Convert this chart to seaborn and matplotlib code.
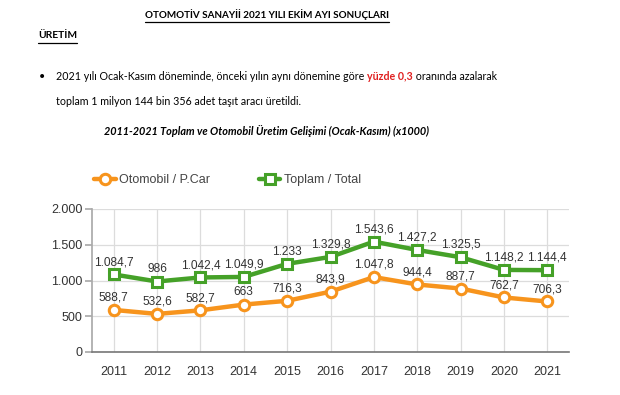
import matplotlib
matplotlib.use("Agg")
import matplotlib.pyplot as plt
import seaborn as sns
import pandas as pd
from matplotlib.lines import Line2D
from matplotlib.ticker import FuncFormatter

years = ["2011", "2012", "2013", "2014", "2015", "2016", "2017", "2018", "2019", "2020", "2021"]
otomobil = [588.7, 532.6, 582.7, 663.0, 716.3, 843.9, 1047.8, 944.4, 887.7, 762.7, 706.3]
toplam = [1084.7, 986.0, 1042.4, 1049.9, 1233.0, 1329.8, 1543.6, 1427.2, 1325.5, 1148.2, 1144.4]
series_names = ["Otomobil / P.Car", "Toplam / Total"]
y_ticks = [0, 500, 1000, 1500, 2000]

ORANGE = "#F7941D"
GREEN = "#45A128"
TXT = "#333333"

sns.set_theme(style="white")
plt.rcParams["font.family"] = ["Liberation Sans", "DejaVu Sans"]

def fmt_tr(v):
    s = f"{v:,.1f}".replace(",", "X").replace(".", ",").replace("X", ".")
    if s.endswith(",0"):
        s = s[:-2]
    return s

df = pd.DataFrame({
    "idx": list(range(len(years))) * 2,
    "value": otomobil + toplam,
    "series": [series_names[0]] * len(years) + [series_names[1]] * len(years),
})

fig = plt.figure(figsize=(6.2, 3.95), dpi=100)
ax = fig.add_axes([92 / 620, 1 - 352 / 395, (569 - 92) / 620, (352 - 209) / 395])

sns.lineplot(data=df, x="idx", y="value", hue="series", style="series",
             palette={series_names[0]: ORANGE, series_names[1]: GREEN},
             markers={series_names[0]: "o", series_names[1]: "s"},
             dashes=False, linewidth=3.2, markersize=7.5,
             markerfacecolor="white", markeredgewidth=2.2,
             ax=ax, legend=False, zorder=3)
for ln, c in zip(ax.get_lines(), [ORANGE, GREEN]):
    ln.set_markeredgecolor(c)
    ln.set_markerfacecolor("white")

ax.set_xlim(-0.5, len(years) - 0.5)
ax.set_ylim(0, 2000)
ax.set_xticks(range(len(years)))
ax.set_xticklabels(years)
ax.set_yticks(y_ticks)
ax.yaxis.set_major_formatter(FuncFormatter(lambda v, p: fmt_tr(v)))
ax.set_xlabel("")
ax.set_ylabel("")
ax.grid(True, color="#dcdcdc", linewidth=0.9)
ax.set_axisbelow(True)
for s in ["top", "right"]:
    ax.spines[s].set_visible(False)
ax.spines["left"].set_color("#aaaaaa")
ax.spines["bottom"].set_color("#777777")
ax.spines["bottom"].set_linewidth(1.2)
ax.tick_params(axis="y", left=True, length=5, color="#aaaaaa", labelsize=9, labelcolor=TXT, pad=2)
ax.tick_params(axis="x", bottom=False, labelsize=9, labelcolor=TXT, pad=4)

for i in range(len(years)):
    ax.annotate(fmt_tr(otomobil[i]), (i, otomobil[i]), xytext=(0, 4.5), textcoords="offset points",
                ha="center", va="bottom", fontsize=8.6, color=TXT)
    ax.annotate(fmt_tr(toplam[i]), (i, toplam[i]), xytext=(0, 4.5), textcoords="offset points",
                ha="center", va="bottom", fontsize=8.6, color=TXT)

handles = [Line2D([], [], color=ORANGE, lw=3.2, marker="o", markersize=7.5, markerfacecolor="white",
                  markeredgecolor=ORANGE, markeredgewidth=2.2),
           Line2D([], [], color=GREEN, lw=3.2, marker="s", markersize=7.5, markerfacecolor="white",
                  markeredgecolor=GREEN, markeredgewidth=2.2)]
fig.legend(handles, series_names, loc="center left", bbox_to_anchor=(83 / 620, 1 - 180 / 395),
           ncol=2, frameon=False, handlelength=1.7, handletextpad=0.3, columnspacing=3.9,
           fontsize=9.0, labelcolor="#444444")

# header text
HF = ["Lato", "DejaVu Sans"]
fig.canvas.draw()
renderer = fig.canvas.get_renderer()

def fit(t, target_w):
    # scale font so the text spans the same width as in the reference
    bb = t.get_window_extent(renderer)
    t.set_fontsize(t.get_fontsize() * target_w / bb.width)
    fig.canvas.draw()

def underline(t, dy=2):
    bb = t.get_window_extent(renderer)
    y = (bb.y0 - dy) / fig.bbox.height
    fig.add_artist(Line2D([bb.x0 / 620, bb.x1 / 620], [y, y], color="black", lw=0.9))

t1 = fig.text(145 / 620, 1 - 15 / 395, "OTOMOTİV SANAYİİ 2021 YILI EKİM AYI SONUÇLARI",
              family=HF, fontsize=9, fontweight="bold", va="center", ha="left", color="black")
t2 = fig.text(38 / 620, 1 - 36 / 395, "ÜRETİM", family=HF, fontsize=9, fontweight="bold",
              va="center", ha="left", color="black")
fig.canvas.draw()
fit(t1, 245)
fit(t2, 39)
underline(t1)
underline(t2)

base1 = 1 - 80 / 395
p1 = fig.text(56 / 620, base1, "2021 yılı Ocak-Kasım döneminde, önceki yılın aynı dönemine göre ",
              family=HF, fontsize=10, va="baseline", ha="left", color="black")
p2 = fig.text(0, base1, "yüzde 0,3", family=HF, fontsize=10, fontweight="bold",
              color="#E02020", va="baseline", ha="left")
p3 = fig.text(0, base1, " oranında azalarak", family=HF, fontsize=10,
              va="baseline", ha="left", color="black")
fig.canvas.draw()
tot = sum(p.get_window_extent(renderer).width for p in (p1, p2, p3))
BS = 10 * 439 / tot
for p in (p1, p2, p3):
    p.set_fontsize(BS)
fig.canvas.draw()
bb = p1.get_window_extent(renderer)
p2.set_x(bb.x1 / 620)
fig.canvas.draw()
bb2 = p2.get_window_extent(renderer)
p3.set_x(bb2.x1 / 620)
fig.text(42 / 620, base1, "•", family=HF, fontsize=BS, va="baseline", ha="center", color="black")
fig.text(56 / 620, 1 - 105 / 395, "toplam 1 milyon 144 bin 356 adet taşıt aracı üretildi.",
         family=HF, fontsize=BS, va="baseline", ha="left", color="black")

t4 = fig.text(104 / 620, 1 - 131 / 395, "2011-2021 Toplam ve Otomobil Üretim Gelişimi (Ocak-Kasım) (x1000)",
              family=HF, fontsize=9, fontweight="bold", style="italic", va="center", ha="left", color="black")
fig.canvas.draw()
fit(t4, 327)

fig.savefig("out.png", dpi=100, facecolor="white")
